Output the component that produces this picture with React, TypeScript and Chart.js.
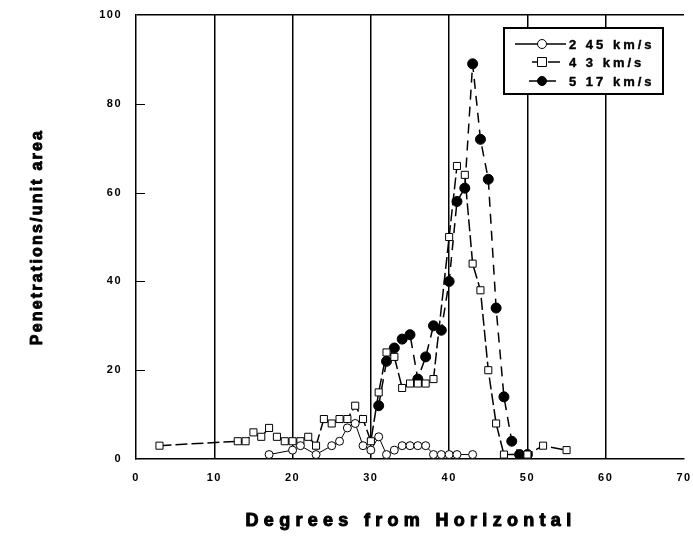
import React, { useEffect, useRef } from 'react';
import { Chart, registerables } from 'chart.js';

Chart.register(...registerables);

const seriesNames = ['2 45 km/s', '4 3 km/s', '5 17 km/s'];

const s1x = [17, 20, 21, 23, 25, 26, 27, 28, 29, 30, 31, 32, 33, 34, 35, 36, 37, 38, 39, 40, 41, 43];
const s1y = [1, 2, 3, 1, 3, 4, 7, 8, 3, 2, 5, 1, 2, 3, 3, 3, 3, 1, 1, 1, 1, 1];

const s2x = [3, 13, 14, 15, 16, 17, 18, 19, 20, 21, 22, 23, 24, 25, 26, 27, 28, 29, 30, 31, 32, 33, 34, 35, 36, 37, 38, 40, 41, 42, 43, 44, 45, 46, 47, 50, 52, 55];
const s2y = [3, 4, 4, 6, 5, 7, 5, 4, 4, 4, 5, 3, 9, 8, 9, 9, 12, 9, 4, 15, 24, 23, 16, 17, 17, 17, 18, 50, 66, 64, 44, 38, 20, 8, 1, 1, 3, 2];

const s3x = [31, 32, 33, 34, 35, 36, 37, 38, 39, 40, 41, 42, 43, 44, 45, 46, 47, 48, 49, 50];
const s3y = [12, 22, 25, 27, 28, 18, 23, 30, 29, 40, 58, 61, 89, 72, 63, 34, 14, 4, 1, 1];

const xMin = 0, xMax = 70, xStep = 10;
const yMin = 0, yMax = 100, yStep = 20;

const xTitle = 'Degrees from Horizontal';
const yTitle = 'Penetrations/unit area';

const FONT = '"Liberation Sans", Arial, sans-serif';

const pts = (xs: number[], ys: number[]) => xs.map((x, i) => ({ x, y: ys[i] }));

const heavyText = (ctx: CanvasRenderingContext2D, t: string, x: number, y: number, w: number) => {
  ctx.lineWidth = w;
  ctx.strokeStyle = '#000';
  ctx.lineJoin = 'round';
  ctx.strokeText(t, x, y);
  ctx.fillText(t, x, y);
};

const decorPlugin = {
  id: 'decor',
  beforeDraw(chart: any) {
    chart.ctx.letterSpacing = '1.5px';
  },
  afterDraw(chart: any) {
    const ctx = chart.ctx as CanvasRenderingContext2D;
    const ys = chart.scales.y;
    const area = chart.chartArea;
    ctx.save();
    ctx.strokeStyle = '#000';
    ctx.lineWidth = 1;
    for (let v = yMin + yStep; v < yMax; v += yStep) {
      const py = Math.round(ys.getPixelForValue(v)) + 0.5;
      ctx.beginPath();
      ctx.moveTo(area.left, py);
      ctx.lineTo(area.left + 9, py);
      ctx.stroke();
    }
    ctx.restore();

    ctx.save();
    ctx.fillStyle = '#000';
    ctx.textAlign = 'center';
    ctx.textBaseline = 'middle';
    (ctx as any).letterSpacing = '2.2px';
    ctx.font = `bold 16px ${FONT}`;
    ctx.translate(38, 237);
    ctx.rotate(-Math.PI / 2);
    heavyText(ctx, yTitle, 0, 0, 0.9);
    ctx.restore();

    ctx.save();
    ctx.fillStyle = '#000';
    ctx.textAlign = 'center';
    ctx.textBaseline = 'middle';
    (ctx as any).letterSpacing = '5.3px';
    ctx.font = `bold 18px ${FONT}`;
    heavyText(ctx, xTitle, 411, 521, 1);
    ctx.restore();

    const bx = 504, by = 28, bw = 159, bh = 66;
    ctx.save();
    ctx.fillStyle = '#fff';
    ctx.fillRect(bx, by, bw, bh);
    ctx.strokeStyle = '#000';
    ctx.lineWidth = 2;
    ctx.strokeRect(bx, by, bw, bh);
    const rows = [44, 62, 81];
    chart.data.datasets.forEach((ds: any, i: number) => {
      const y = rows[i];
      ctx.strokeStyle = '#000';
      ctx.lineWidth = 1.5;
      ctx.setLineDash(ds.borderDash || []);
      ctx.beginPath();
      if (i === 0) { ctx.moveTo(515, y); ctx.lineTo(566, y); }
      else if (i === 1) { ctx.moveTo(532, y); ctx.lineTo(563, y); }
      else { ctx.moveTo(529, y); ctx.lineTo(561, y); }
      ctx.stroke();
      ctx.setLineDash([]);
      ctx.lineWidth = 1;
      if (ds.pointStyle === 'rect') {
        ctx.fillStyle = '#fff';
        ctx.fillRect(537, y - 5, 10, 10);
        ctx.strokeRect(537.5, y - 4.5, 9, 9);
      } else {
        ctx.beginPath();
        ctx.arc(542, y, 4.5, 0, Math.PI * 2);
        ctx.fillStyle = ds.pointBackgroundColor;
        ctx.fill();
        ctx.stroke();
      }
      ctx.fillStyle = '#000';
      ctx.textAlign = 'left';
      ctx.textBaseline = 'middle';
      (ctx as any).letterSpacing = '3px';
      ctx.font = `bold 13px ${FONT}`;
      heavyText(ctx, ds.label, 569, y + 1, 0.4);
    });
    ctx.restore();
  },
};

export default function App() {
  const ref = useRef<HTMLCanvasElement>(null);
  useEffect(() => {
    if (!ref.current) return;
    const tickFont = { family: FONT, weight: 'bold' as const, size: 11 };
    const chart = new Chart(ref.current, {
      type: 'line',
      data: {
        datasets: [
          {
            label: seriesNames[0],
            data: pts(s1x, s1y),
            borderColor: '#000',
            borderWidth: 1,
            pointStyle: 'circle',
            pointRadius: 4,
            pointBackgroundColor: '#fff',
            pointBorderColor: '#000',
            pointBorderWidth: 1,
            fill: false,
            tension: 0,
          },
          {
            label: seriesNames[1],
            data: pts(s2x, s2y),
            borderColor: '#000',
            borderWidth: 1.5,
            borderDash: [12, 4],
            pointStyle: 'rect',
            pointRadius: 5,
            pointBackgroundColor: '#fff',
            pointBorderColor: '#000',
            pointBorderWidth: 1,
            fill: false,
            tension: 0,
          },
          {
            label: seriesNames[2],
            data: pts(s3x, s3y),
            borderColor: '#000',
            borderWidth: 1.5,
            borderDash: [10, 7],
            pointStyle: 'circle',
            pointRadius: 5,
            pointBackgroundColor: '#000',
            pointBorderColor: '#000',
            pointBorderWidth: 1,
            fill: false,
            tension: 0,
          },
        ],
      },
      options: {
        responsive: false,
        animation: false,
        layout: { padding: { top: 15, right: 9, left: 0, bottom: 0 } },
        plugins: { legend: { display: false }, tooltip: { enabled: false } },
        scales: {
          x: {
            type: 'linear',
            min: xMin,
            max: xMax,
            ticks: { stepSize: xStep, color: '#000', font: tickFont, padding: 12 },
            grid: {
              color: (c: any) => (c.tick && c.tick.value > xMin && c.tick.value < xMax ? '#000' : 'rgba(0,0,0,0)'),
              lineWidth: 1.5,
              drawTicks: false,
            },
            border: { display: true, color: '#000', width: 1.5 },
            afterFit: (s: any) => { s.height = 79; s.paddingLeft = 0; s.paddingRight = 0; },
          },
          y: {
            type: 'linear',
            min: yMin,
            max: yMax,
            ticks: { stepSize: yStep, color: '#000', font: tickFont, padding: 14 },
            grid: {
              color: (c: any) => (c.tick && c.tick.value === yMax ? '#000' : 'rgba(0,0,0,0)'),
              lineWidth: 1.5,
              drawTicks: false,
            },
            border: { display: true, color: '#000', width: 1.5 },
            afterFit: (s: any) => { s.width = 136; s.paddingTop = 0; s.paddingBottom = 0; },
          },
        },
      },
      plugins: [decorPlugin],
    });
    return () => chart.destroy();
  }, []);
  return (
    <canvas
      ref={ref}
      width={693}
      height={538}
      style={{ position: 'absolute', left: 0, top: 0, background: '#fff' }}
    />
  );
}
